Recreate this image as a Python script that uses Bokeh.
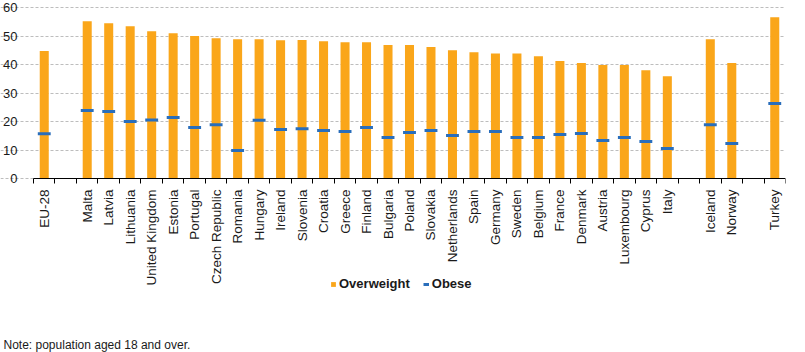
import math
from bokeh.plotting import figure
from bokeh.models import (Range1d, FixedTicker, Legend, LegendItem, Label)
from bokeh.embed import file_html
from bokeh.resources import INLINE

# ---- data -------------------------------------------------------------
countries = ["EU-28",
             "Malta", "Latvia", "Lithuania", "United Kingdom", "Estonia",
             "Portugal", "Czech Republic", "Romania", "Hungary", "Ireland",
             "Slovenia", "Croatia", "Greece", "Finland", "Bulgaria", "Poland",
             "Slovakia", "Netherlands", "Spain", "Germany", "Sweden",
             "Belgium", "France", "Denmark", "Austria", "Luxembourg",
             "Cyprus", "Italy",
             "Iceland", "Norway",
             "Turkey"]
overweight = [44.7,
              55.2, 54.5, 53.4, 51.7, 51.0, 50.0, 49.2, 48.9, 48.9, 48.5,
              48.6, 48.2, 47.8, 47.8, 46.8, 46.8, 46.1, 45.0, 44.3, 43.9,
              43.9, 42.9, 41.2, 40.5, 39.8, 39.8, 38.0, 35.9,
              48.9, 40.5,
              56.6]
obese = [15.7,
         23.9, 23.5, 20.0, 20.5, 21.4, 17.9, 18.9, 9.8, 20.4, 17.2,
         17.5, 16.8, 16.5, 17.9, 14.4, 16.1, 16.8, 15.1, 16.5, 16.5,
         14.4, 14.4, 15.4, 15.8, 13.3, 14.4, 13.0, 10.5,
         18.9, 12.3,
         26.3]
group_sizes = [1, 28, 2, 1]   # EU-28 | member states | EFTA | candidate
y_ticks = [0, 10, 20, 30, 40, 50, 60]
series_names = ["Overweight", "Obese"]
note_text = "Note: population aged 18 and over."

ORANGE = "#faa61a"
BLUE = "#2a6ebb"
FONT = "Liberation Sans"
TEXT = "#1a1a1a"

# ---- layout constants (pixels) ----------------------------------------
W, H = 805, 352
PLOT_LEFT, PLOT_RIGHT = 33, 785       # data area horizontally
PLOT_TOP, PLOT_ZERO = 7, 178          # y=60 and y=0 rows
RIGHT_BORDER = W - PLOT_RIGHT

# ---- slot positions (one empty slot between groups) ------------------
pos = []
slot = 0
for gi, n in enumerate(group_sizes):
    for _ in range(n):
        pos.append(slot)
        slot += 1
    if gi < len(group_sizes) - 1:
        slot += 1
n_slots = slot

x_lo, x_hi = -0.5, n_slots - 0.5
slot_px = (PLOT_RIGHT - PLOT_LEFT) / (x_hi - x_lo)
x_start = x_lo - PLOT_LEFT / slot_px
y_top = y_ticks[-1]
unit_px = (PLOT_ZERO - PLOT_TOP) / y_top
y_end = y_top + PLOT_TOP / unit_px
y_start = y_top - (H - PLOT_TOP) / unit_px

p = figure(width=W, height=H, output_backend="svg", toolbar_location=None,
           x_range=Range1d(x_start, x_hi), y_range=Range1d(y_start, y_end),
           min_border_left=0, min_border_right=RIGHT_BORDER,
           min_border_top=0, min_border_bottom=0)
p.outline_line_color = None
p.background_fill_color = "white"
p.border_fill_color = "white"

bars = p.vbar(x=pos, top=overweight, width=0.42, color=ORANGE, line_color=None)
half = 0.3
dashes = p.segment(x0=[x - half for x in pos], x1=[x + half for x in pos],
                   y0=obese, y1=obese, line_color=BLUE, line_width=3,
                   line_cap="butt")

# ---- axes --------------------------------------------------------------
xa = p.xaxis[0]
xa.fixed_location = 0
xa.bounds = (x_lo, x_hi)
xa.ticker = FixedTicker(ticks=pos, minor_ticks=[i - 0.5 for i in range(n_slots + 1)])
xa.major_label_overrides = {x: name for x, name in zip(pos, countries)}
xa.major_label_orientation = math.pi / 2
xa.major_tick_out = 0
xa.major_tick_in = 0
xa.minor_tick_out = 5
xa.minor_tick_in = 0
xa.minor_tick_line_color = "black"
xa.axis_line_color = "black"
xa.axis_line_width = 1
xa.major_label_standoff = 6
xa.major_label_text_font = FONT
xa.major_label_text_font_size = "13.5px"
xa.major_label_text_color = TEXT

ya = p.yaxis[0]
ya.fixed_location = x_lo
ya.bounds = (0, y_top)
ya.ticker = FixedTicker(ticks=y_ticks)
ya.axis_line_color = None
ya.major_tick_line_color = None
ya.minor_tick_line_color = None
ya.major_label_standoff = 10
ya.major_label_text_font = FONT
ya.major_label_text_font_size = "13px"
ya.major_label_text_color = TEXT

p.xgrid.grid_line_color = None
p.ygrid.ticker = FixedTicker(ticks=y_ticks)
p.ygrid.bounds = (x_lo, x_hi)
p.ygrid.grid_line_color = "#bdbdbd"
p.ygrid.grid_line_dash = "3 2"
p.ygrid.grid_line_width = 1

# ---- legend and note (inside the frame, screen units) ------------------
legend = Legend(items=[LegendItem(label=series_names[0], renderers=[bars]),
                       LegendItem(label=series_names[1], renderers=[dashes])],
                orientation="horizontal", location=(330, 61),
                glyph_width=6, glyph_height=6, label_standoff=3, spacing=13,
                padding=0, margin=0, border_line_color=None,
                background_fill_alpha=0, label_height=14,
                label_text_font=FONT, label_text_font_size="13px",
                label_text_font_style="bold", label_text_color=TEXT)
p.add_layout(legend, "center")

note = Label(x=3, y=8, x_units="screen", y_units="screen", text=note_text,
             text_font=FONT, text_font_size="12px", text_baseline="middle",
             text_color=TEXT)
p.add_layout(note)

open("out.html", "w").write(file_html(p, INLINE))
